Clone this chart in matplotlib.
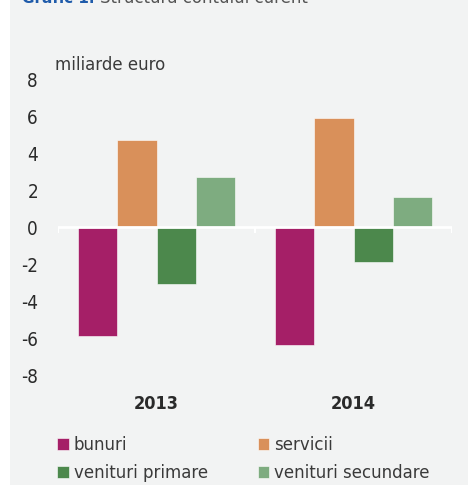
import matplotlib
matplotlib.use('Agg')
import matplotlib.pyplot as plt
import numpy as np

# values in billion euro
years = ['2013', '2014']
series = ['bunuri', 'servicii', 'venituri primare', 'venituri secundare']
bunuri = [-5.9, -6.4]
servicii = [4.7, 5.9]
venituri_primare = [-3.1, -1.9]
venituri_secundare = [2.7, 1.6]
yticks = [8, 6, 4, 2, 0, -2, -4, -6, -8]

colors = ['#A51F67', '#D9905A', '#4C884C', '#7EAC80']
bg = '#F2F3F3'
txt = '#3a3a3a'

W, H = 468, 486
fig = plt.figure(figsize=(W / 100, H / 100), dpi=100)
fig.patch.set_facecolor('white')
# light grey panel
fig.patches.append(plt.Rectangle((10 / W, 1 / H), 1 - 10 / W, 1 - 1 / H,
                                 transform=fig.transFigure, facecolor=bg,
                                 edgecolor='none', zorder=-10))

# title is cut off at the top of the picture
fig.text(22 / W, 1 - 3 / H, 'Grafic 1.', color='#1F5BAA', fontsize=11,
         fontweight='bold', va='baseline', ha='left')
fig.text(100 / W, 1 - 3 / H, 'Structura contului curent', color='#555555',
         fontsize=12, va='baseline', ha='left')

ax = fig.add_axes([58 / W, (H - 375) / H, 394 / W, 296 / H])
ax.set_facecolor('none')

x = np.arange(len(years))
w = 0.2
data = [bunuri, servicii, venituri_primare, venituri_secundare]
bars = []
for i, (vals, c, name) in enumerate(zip(data, colors, series)):
    b = ax.bar(x + (i - 1.5) * w, vals, width=w, color=c, label=name,
               edgecolor='white', linewidth=0.4, zorder=2)
    bars.append(b)

ax.set_xlim(-0.5, 1.5)
ax.set_ylim(-8, 8)
for s in ax.spines.values():
    s.set_visible(False)

# white zero line with small ticks between categories
ax.axhline(0, color='white', lw=2, zorder=3)
for xt in [-0.5, 0.5, 1.5]:
    ax.plot([xt, xt], [0, -0.3], color='white', lw=1.5, zorder=3,
            solid_capstyle='butt')

ax.set_yticks(yticks)
ax.set_yticklabels([str(v) for v in yticks], fontsize=13.5, color='#2a2a2a',
                   fontstretch='condensed')
ax.tick_params(axis='y', length=0, pad=14.4)
ax.set_xticks([])
for xi, yr in zip(x, years):
    ax.text(xi, -9.55, yr, ha='center', va='center', fontsize=13,
            fontstretch='condensed', fontweight='bold', color='#2a2a2a')

fig.text(55 / W, 1 - 65 / H, 'miliarde euro', fontsize=12, color=txt,
         va='center', ha='left')

# legend filled row by row
order = [0, 2, 1, 3]
leg = fig.legend([bars[i] for i in order], [series[i] for i in order],
                 loc='upper left', ncol=2,
                 bbox_to_anchor=(42 / W, 1 - 421 / H), frameon=False,
                 fontsize=12, handlelength=0.7, handleheight=0.7,
                 handletextpad=0.3, columnspacing=3.0, labelspacing=0.6,
                 labelcolor=txt)

fig.savefig('out.png', dpi=100, facecolor=fig.get_facecolor())
